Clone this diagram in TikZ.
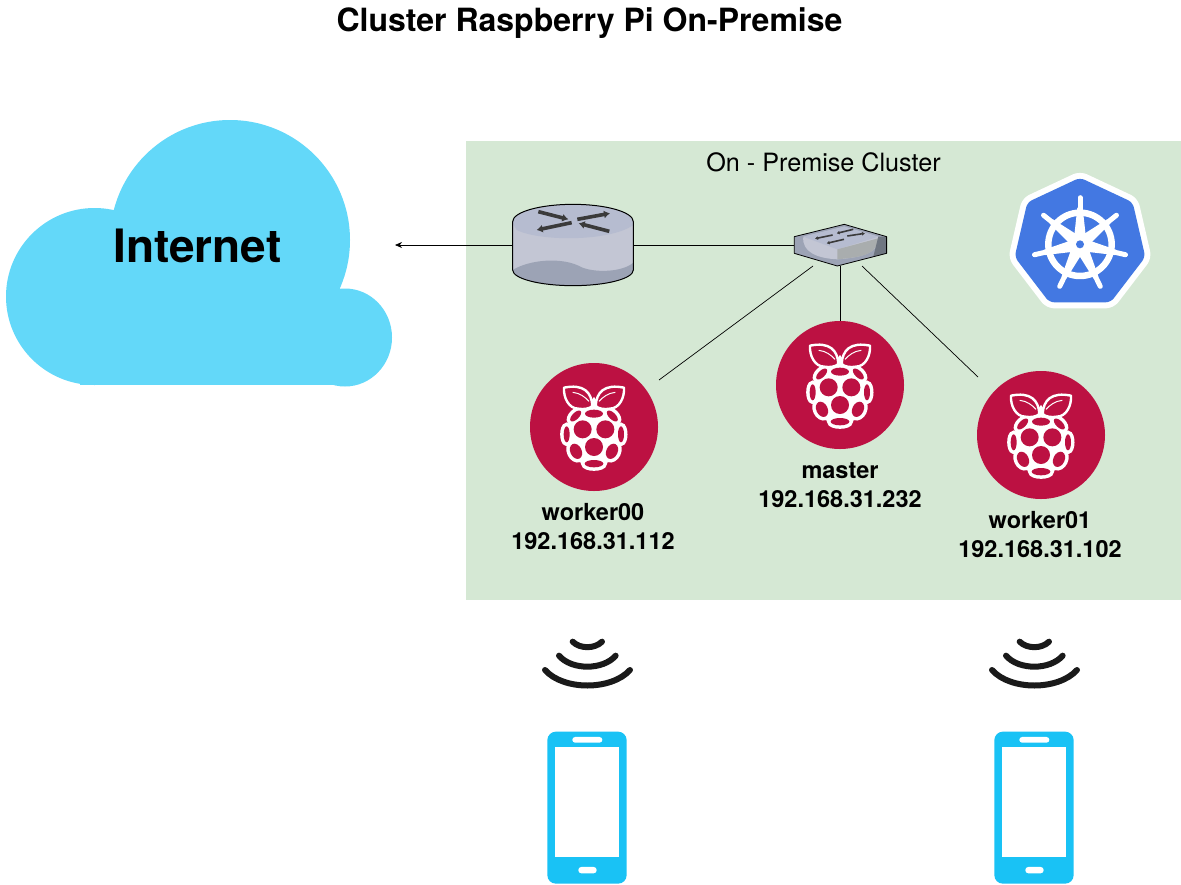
\documentclass[tikz,border=0pt]{standalone}
\usepackage{fontspec}
\setmainfont{TeX Gyre Heros}
\usetikzlibrary{arrows.meta}
\definecolor{rpicol}{HTML}{BC1142}
\definecolor{cloudcol}{HTML}{63D8F9}
\definecolor{clustercol}{HTML}{D5E8D4}
\definecolor{kubecol}{HTML}{4378E2}
\definecolor{phonecol}{HTML}{19C2F5}
\definecolor{rtop}{HTML}{B6BCD0}
\definecolor{rside}{HTML}{C3C6D4}
\definecolor{rdark}{HTML}{9CA3B5}
\definecolor{swshade}{HTML}{A9ADAE}
\definecolor{swedge}{HTML}{6F7681}
\definecolor{darkarrow}{HTML}{3A3A3A}
\definecolor{wifi}{HTML}{1A1A1A}
\tikzset{
  link/.style={draw=black,line width=0.7pt},
  titlelabel/.style={font=\bfseries\fontsize{32}{36}\selectfont,anchor=center},
  pilabel/.style={font=\bfseries\fontsize{23.5}{29}\selectfont,align=center,anchor=center},
  pinode/.style={circle,fill=rpicol,minimum size=128pt,inner sep=0pt},
  hub/.style={inner sep=0pt,minimum width=#1},
  rpilogo/.pic={
    \begin{scope}[x=0.3333pt,y=-0.3333pt,shift={(-222,-215)}]
      \def\holes{
        222/175/27/12/0, 167/182/21/10/45, 277/182/21/10/-45,
        188/222/27/27/0, 256/222/27/27/0, 222/275/27/27/0,
        168/288/17/24/25, 276/288/17/24/-25,
        140/237/9/24/0, 303/237/9/24/0, 222/325/28/11/0}
      \fill[white] (222,250) ellipse [x radius=85,y radius=82];
      \foreach \x/\y/\a/\b/\r in \holes {
        \draw[white,fill=white,line width=7pt,rotate around={\r:(\x,\y)}] (\x,\y) ellipse [x radius=\a,y radius=\b];
      }
      \foreach \x/\y/\a/\b/\r in \holes {
        \fill[rpicol,rotate around={\r:(\x,\y)}] (\x,\y) ellipse [x radius=\a,y radius=\b];
      }
      \fill[white] (195,160) -- (222,125) -- (249,160) -- cycle;
      \foreach \s in {1,-1} {
        \begin{scope}[shift={(222,0)},xscale=\s,shift={(-222,0)}]
          \draw[white,fill=rpicol,line width=2.4pt,line join=round]
            (217,152) .. controls (215,110) and (190,85) .. (132,97)
            .. controls (130,125) and (145,160) .. (175,160)
            .. controls (190,163) and (210,160) .. cycle;
          \draw[white,line width=1pt] (158,111) .. controls (180,113) and (195,125) .. (207,138);
        \end{scope}
      }
    \end{scope}
  },
  phone/.pic={
    \begin{scope}[x=0.3333pt,y=-0.3333pt]
      \draw[wifi,line width=6pt,line cap=round] (128,50) .. controls (150,72) and (194,72) .. (216,50);
      \draw[wifi,line width=6pt,line cap=round] (87,92) .. controls (125,136) and (219,136) .. (257,92);
      \draw[wifi,line width=6pt,line cap=round] (45,135) .. controls (100,197) and (244,197) .. (300,135);
      \fill[phonecol,rounded corners=8.5pt] (52,320) rectangle (290,776);
      \fill[white] (76,367) rectangle (267,696);
      \fill[white,rounded corners=2.8pt] (127,336) rectangle (217,353);
      \fill[white,rounded corners=3pt] (145,726) rectangle (200,745);
    \end{scope}
  }
}
\begin{document}
\begin{tikzpicture}[x=1pt,y=-1pt]
\useasboundingbox (0,0) rectangle (1181,884);
\fill[white] (0,0) rectangle (1181,884);

\node[titlelabel] (title) at (589.5,23) {Cluster Raspberry Pi On-Premise};

% cloud
\fill[cloudcol] (94.5,296.5) circle [radius=88.5];
\fill[cloudcol] (230,240) circle [radius=120];
\fill[cloudcol] (345,337.5) ellipse [x radius=47,y radius=49];
\fill[cloudcol] (80,290) rectangle (352,385);
\fill[cloudcol] (130,200) rectangle (340,300);
\node[font=\bfseries\fontsize{46}{50}\selectfont] (internet) at (197.5,246) {Internet};

% cluster
\node[fill=clustercol,minimum width=715pt,minimum height=459pt,inner sep=0pt] (cluster) at (823.5,370.5) {};
\node[font=\fontsize{25.2}{30}\selectfont] (clusterlabel) at (823.5,162) {On - Premise Cluster};

% hubs and hosts
\node[hub=120pt,minimum height=82pt] (router) at (573,245) {};
\node[hub=92pt,minimum height=42pt] (switch) at (840,245) {};
\node[pinode] (w0) at (594,427) {};
\node[pinode] (ms) at (840,385) {};
\node[pinode] (w1) at (1041,435) {};
\coordinate (cloudend) at (395,245);
\coordinate (swl) at (813,266);
\coordinate (swr) at (862,266);
\coordinate (w0end) at (659,380);
\coordinate (w1end) at (978,377);

% connectors
\draw[link,-{Stealth[length=7pt,width=6pt]}] (router.west) -- (cloudend);
\draw[link] (router.east) -- (switch.west);
\draw[link] (switch.south) -- (ms.north);
\draw[link] (swl) -- (w0end);
\draw[link] (swr) -- (w1end);

% router drawing
\begin{scope}[shift={(500,190)},x=0.3333pt,y=-0.3333pt]
  \fill[rside] (38,95) -- (38,240) arc[start angle=180,end angle=0,x radius=181,y radius=47] -- (400,95) -- cycle;
  \fill[rdark] (38,240) .. controls (90,208) and (190,200) .. (245,232)
    .. controls (290,250) and (370,245) .. (400,218) -- (400,240)
    arc[start angle=0,end angle=180,x radius=181,y radius=47] -- cycle;
  \fill[rtop] (38,95) arc[start angle=180,end angle=360,x radius=181,y radius=52]
    -- (400,105) .. controls (330,155) and (120,155) .. (50,120) -- (38,100) -- cycle;
  \draw[black,line width=1pt] (38,240) -- (38,95) arc[start angle=180,end angle=360,x radius=181,y radius=52] -- (400,240)
    arc[start angle=0,end angle=180,x radius=181,y radius=47];
  \foreach \xa/\ya/\xb/\yb in {115/65/205/88, 232/88/330/70, 215/98/110/120, 328/124/236/100} {
    \draw[darkarrow,line width=3.6pt,-{Latex[length=6pt,width=8pt]}] (\xa,\ya) -- (\xb,\yb);
  }
\end{scope}

% switch drawing
\begin{scope}[shift={(500,190)},x=0.3333pt,y=-0.3333pt]
  \fill[rdark] (1033,103) -- (1160,140) -- (1160,190) -- (1012,228) -- (883,190) -- (883,140) -- cycle;
  \fill[rside] (910,140) -- (1033,110) -- (1135,140) .. controls (1135,175) and (1120,200) .. (1012,208)
     .. controls (950,205) and (905,185) .. cycle;
  \fill[rtop] (910,140) -- (1033,110) -- (1135,140) -- (1012,178) -- cycle;
  \fill[swshade] (1012,178) -- (1135,145) .. controls (1130,190) and (1100,200) .. (1012,208) -- cycle;
  \fill[swedge] (1135,140) -- (1160,140) -- (1160,190) -- (1120,200) -- cycle;
  \draw[black,line width=0.8pt,line join=round] (1033,103) -- (1160,140) -- (1160,190) -- (1012,228) -- (883,190) -- (883,140) -- cycle;
  \foreach \xa/\ya/\xb/\yb in {998/135/945/146, 1060/118/1010/130, 1042/138/1095/130, 1032/148/980/160} {
    \draw[darkarrow,line width=1.6pt,-{Latex[length=3pt,width=4pt]}] (\xa,\ya) -- (\xb,\yb);
  }
\end{scope}

% raspberry logos
\pic at (w0) {rpilogo};
\pic at (ms) {rpilogo};
\pic at (w1) {rpilogo};

% labels
\node[pilabel] (w0label) at (593,527) {worker00\\192.168.31.112};
\node[pilabel] (mslabel) at (840,485) {master\\192.168.31.232};
\node[pilabel] (w1label) at (1040,535) {worker01\\192.168.31.102};

% kubernetes logo
\begin{scope}[shift={(1000,165)},x=0.3333pt,y=-0.3333pt]
  \draw[white,fill=white,line width=12pt,rounded corners=5pt,line join=round] (240,38) -- (398,112) -- (436,276) -- (332,412) -- (148,412) -- (44,276) -- (82,112) -- cycle;
  \fill[kubecol,rounded corners=5pt] (240,38) -- (398,112) -- (436,276) -- (332,412) -- (148,412) -- (44,276) -- (82,112) -- cycle;
  \draw[white,line width=6.5pt] (240,238) circle [radius=95];
  \foreach \ang in {90,141.43,192.86,244.29,295.71,347.14,38.57} {
    \begin{scope}[shift={(240,238)},rotate=\ang]
      \draw[white,line width=5pt,line cap=round] (90,0) -- (140,0);
      \fill[white] (0,-20) -- (110,-8) -- (110,8) -- (0,20) -- cycle;
    \end{scope}
  }
  \fill[white] (240,238) circle [radius=26];
  \fill[kubecol] (240,238) circle [radius=12];
\end{scope}

% phones
\pic at (530,625) {phone};
\pic at (977,625) {phone};
\end{tikzpicture}
\end{document}
